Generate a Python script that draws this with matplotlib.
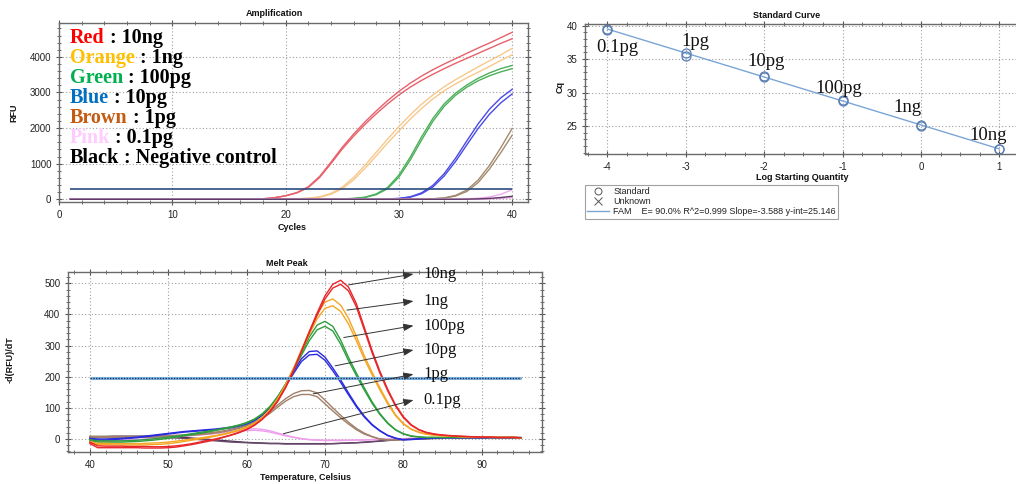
import matplotlib
matplotlib.use("Agg")
import matplotlib.pyplot as plt
from matplotlib.ticker import MultipleLocator
from matplotlib.lines import Line2D

plt.rcParams['font.family'] = ['Liberation Sans', 'DejaVu Sans']
plt.rcParams['axes.unicode_minus'] = False

# ---------------- data ----------------
cycles = list(range(1, 41))

amp_red_1 = [0, 0, 0, 0, 0, 0, 0, 0, 0, 0, 0, 0, 0, 0, 1, 2, 5, 15, 45, 100,
             190, 350, 640, 1040, 1460, 1830, 2170, 2480, 2770, 3030,
             3260, 3460, 3640, 3800, 3950, 4100, 4250, 4390, 4540, 4690]
amp_red_2 = [0, 0, 0, 0, 0, 0, 0, 0, 0, 0, 0, 0, 0, 0, 1, 2, 5, 14, 42, 95,
             180, 330, 610, 1000, 1410, 1770, 2100, 2400, 2680, 2930,
             3150, 3340, 3510, 3670, 3820, 3960, 4100, 4240, 4380, 4510]
amp_orange_1 = [0, 0, 0, 0, 0, 0, 0, 0, 0, 0, 0, 0, 0, 0, 0, 0, 0, 1, 3, 6,
                14, 30, 70, 165, 340, 610, 950, 1320, 1690, 2040,
                2370, 2670, 2930, 3160, 3360, 3540, 3720, 3890, 4060, 4240]
amp_orange_2 = [0, 0, 0, 0, 0, 0, 0, 0, 0, 0, 0, 0, 0, 0, 0, 0, 0, 1, 2, 5,
                11, 25, 58, 140, 295, 545, 865, 1220, 1580, 1920,
                2250, 2550, 2820, 3050, 3240, 3410, 3570, 3730, 3900, 4060]
amp_green_1 = [0, 0, 0, 0, 0, 0, 0, 0, 0, 0, 0, 0, 0, 0, 0, 0, 0, 0, 0, 0,
               0, 1, 3, 6, 12, 25, 60, 150, 330, 680,
               1180, 1750, 2270, 2680, 2980, 3210, 3400, 3550, 3670, 3760]
amp_green_2 = [0, 0, 0, 0, 0, 0, 0, 0, 0, 0, 0, 0, 0, 0, 0, 0, 0, 0, 0, 0,
               0, 1, 2, 5, 10, 20, 50, 130, 295, 620,
               1100, 1660, 2190, 2610, 2920, 3150, 3330, 3470, 3580, 3670]
amp_blue_1 = [0, 0, 0, 0, 0, 0, 0, 0, 0, 0, 0, 0, 0, 0, 0, 0, 0, 0, 0, 0,
              0, 0, 0, 0, 1, 2, 4, 7, 10, 25,
              70, 180, 390, 720, 1150, 1640, 2120, 2530, 2850, 3090]
amp_blue_2 = [0, 0, 0, 0, 0, 0, 0, 0, 0, 0, 0, 0, 0, 0, 0, 0, 0, 0, 0, 0,
              0, 0, 0, 0, 1, 2, 3, 5, 8, 20,
              58, 155, 345, 655, 1060, 1530, 1990, 2390, 2710, 2960]
amp_brown_1 = [0, 0, 0, 0, 0, 0, 0, 0, 0, 0, 0, 0, 0, 0, 0, 0, 0, 0, 0, 0,
               0, 0, 0, 0, 0, 0, 0, 0, 1, 2,
               3, 5, 15, 40, 110, 260, 540, 950, 1450, 1990]
amp_brown_2 = [0, 0, 0, 0, 0, 0, 0, 0, 0, 0, 0, 0, 0, 0, 0, 0, 0, 0, 0, 0,
               0, 0, 0, 0, 0, 0, 0, 0, 1, 1,
               2, 4, 12, 32, 90, 220, 470, 850, 1310, 1800]
amp_pink_1 = [0, 0, 0, 0, 0, 0, 0, 0, 0, 0, 0, 0, 0, 0, 0, 0, 0, 0, 0, 0,
              0, 0, 0, 0, 0, 0, 0, 0, 0, 0,
              0, 1, 1, 2, 5, 12, 30, 65, 140, 270]
amp_pink_2 = [0, 0, 0, 0, 0, 0, 0, 0, 0, 0, 0, 0, 0, 0, 0, 0, 0, 0, 0, 0,
              0, 0, 0, 0, 0, 0, 0, 0, 0, 0,
              0, 0, 0, 0, 1, 2, 6, 12, 25, 50]
amp_negative = [0, 0, 0, 0, 0, 0, 0, 0, 0, 0, 0, 0, 0, 0, 0, 0, 0, 0, 0, 0,
                0, 0, 0, 0, 0, 0, 0, 0, 0, 0,
                0, 0, 0, 0, 1, 4, 11, 25, 50, 85]
amp_threshold = 281

log_quantity = [-4, -4, -3, -3, -2, -2, -1, -1, 0, 0, 1, 1]
cq_values = [39.5, 39.4, 35.9, 35.5, 32.4, 32.3, 28.9, 28.7, 25.1, 25.0, 21.6, 21.5]
fit_slope = -3.588
fit_intercept = 25.146
fit_range = [-4, 1]
std_labels = ['0.1pg', '1pg', '10pg', '100pg', '1ng', '10ng']

melt_temps = list(range(40, 96))
melt_red_1 = [-15, -28, -28, -28, -28, -28, -28, -29, -29, -29,
              -28, -26, -22, -18, -13, -8, -2, 5, 12, 20,
              30, 44, 63, 88, 122, 166, 220, 282, 345, 405,
              460, 497, 510, 488, 435, 360, 285, 218, 160, 110,
              72, 46, 30, 21, 16, 13, 11, 9, 8, 7,
              6, 6, 5, 5, 5, 4]
melt_red_2 = [-10, -22, -23, -23, -23, -24, -24, -24, -25, -25,
              -24, -22, -19, -15, -10, -5, 0, 6, 13, 21,
              31, 45, 64, 90, 124, 168, 222, 282, 342, 398,
              450, 485, 497, 476, 425, 352, 278, 212, 155, 106,
              69, 44, 29, 20, 15, 12, 10, 9, 8, 7,
              6, 6, 5, 5, 5, 4]
melt_orange_1 = [-12, -18, -18, -19, -19, -19, -19, -19, -18, -17,
                 -15, -12, -8, -4, 0, 4, 9, 14, 20, 27,
                 36, 49, 68, 94, 130, 175, 228, 287, 345, 400,
                 440, 450, 430, 388, 330, 268, 215, 165, 118, 78,
                 50, 32, 22, 16, 13, 11, 9, 8, 7, 6,
                 6, 5, 5, 5, 5, 4]
melt_orange_2 = [-8, -14, -14, -15, -15, -15, -15, -14, -13, -12,
                 -10, -7, -4, 0, 3, 7, 11, 16, 22, 29,
                 38, 51, 70, 96, 131, 175, 226, 282, 336, 386,
                 420, 428, 410, 370, 316, 258, 207, 158, 113, 75,
                 48, 31, 21, 15, 12, 10, 9, 8, 7, 6,
                 6, 5, 5, 5, 5, 4]
melt_green_1 = [-5, -10, -10, -10, -10, -9, -8, -6, -4, -1,
                2, 6, 10, 14, 18, 22, 27, 32, 37, 43,
                51, 63, 80, 104, 137, 178, 225, 276, 328, 366,
                378, 362, 318, 262, 212, 165, 120, 82, 52, 30,
                17, 10, 7, 5, 5, 5, 5, 5, 5, 5,
                5, 5, 5, 5, 5, 4]
melt_green_2 = [-2, -6, -6, -6, -6, -5, -4, -2, 0, 3,
                6, 9, 13, 17, 21, 25, 29, 34, 39, 45,
                53, 64, 81, 105, 137, 177, 222, 269, 316, 351,
                362, 347, 305, 252, 204, 158, 115, 79, 50, 29,
                16, 9, 6, 5, 5, 5, 5, 5, 5, 5,
                5, 5, 5, 5, 5, 4]
melt_blue_1 = [2, 0, 0, 1, 2, 4, 6, 9, 12, 15,
               18, 21, 24, 26, 28, 30, 32, 35, 38, 43,
               50, 61, 78, 102, 135, 175, 218, 258, 281, 283,
               263, 228, 190, 148, 108, 74, 47, 27, 12, 3,
               -2, -1, 1, 2, 3, 4, 4, 4, 4, 4,
               4, 4, 4, 4, 4, 4]
melt_blue_2 = [0, -3, -3, -2, 0, 2, 4, 7, 10, 13,
               16, 19, 22, 24, 26, 28, 30, 33, 36, 41,
               48, 59, 76, 100, 132, 170, 211, 249, 270, 272,
               253, 219, 182, 142, 104, 71, 45, 26, 11, 2,
               -3, -2, 0, 2, 3, 4, 4, 4, 4, 4,
               4, 4, 4, 4, 4, 4]
melt_brown_1 = [8, 8, 8, 8, 8, 8, 8, 9, 9, 10,
                11, 12, 13, 15, 17, 19, 22, 26, 31, 37,
                45, 55, 70, 88, 110, 130, 146, 155, 156, 148,
                125, 100, 76, 54, 34, 19, 8, 0, -3, -3,
                -2, 0, 1, 2, 3, 3, 4, 4, 4, 4,
                4, 4, 4, 4, 4, 4]
melt_brown_2 = [5, 5, 5, 5, 5, 5, 5, 6, 6, 7,
                8, 9, 10, 12, 14, 16, 19, 23, 28, 34,
                42, 52, 66, 83, 103, 122, 136, 143, 143, 136,
                113, 90, 68, 48, 30, 16, 7, 0, -3, -3,
                -2, 0, 1, 2, 3, 3, 4, 4, 4, 4,
                4, 4, 4, 4, 4, 4]
melt_pink_1 = [-5, -8, -8, -7, -6, -5, -3, -1, 1, 3,
               5, 7, 9, 11, 13, 15, 18, 21, 24, 28,
               31, 33, 31, 26, 19, 12, 6, 1, -2, -4,
               -5, -5, -5, -4, -4, -3, -2, -1, 0, 0,
               1, 2, 2, 3, 3, 3, 4, 4, 4, 4,
               4, 4, 4, 4, 4, 4]
melt_pink_2 = [-3, -5, -5, -5, -4, -3, -2, 0, 2, 4,
               6, 8, 10, 12, 14, 16, 18, 20, 22, 25,
               27, 28, 26, 22, 16, 10, 5, 1, -2, -3,
               -4, -4, -4, -4, -3, -3, -2, -1, 0, 0,
               1, 2, 2, 3, 3, 3, 4, 4, 4, 4,
               4, 4, 4, 4, 4, 4]
melt_negative_1 = [8, 8, 8, 9, 9, 9, 9, 9, 9, 8,
                   7, 6, 5, 3, 1, -1, -3, -5, -7, -9,
                   -11, -12, -13, -14, -14, -15, -15, -15, -15, -15,
                   -15, -15, -14, -13, -12, -11, -9, -7, -5, -3,
                   -1, 0, 1, 1, 2, 2, 3, 3, 3, 4,
                   4, 4, 4, 4, 5, 5]
melt_negative_2 = [5, 5, 6, 6, 6, 6, 6, 6, 6, 5,
                   4, 3, 2, 0, -2, -4, -6, -8, -10, -11,
                   -12, -13, -14, -15, -15, -16, -16, -16, -16, -16,
                   -16, -15, -14, -13, -12, -10, -8, -6, -4, -2,
                   -1, 0, 1, 1, 2, 2, 3, 3, 3, 4,
                   4, 4, 4, 4, 4, 4]
melt_threshold = 197
melt_labels = ['10ng', '1ng', '100pg', '10pg', '1pg', '0.1pg']

legend_words = ['Red', 'Orange', 'Green', 'Blue', 'Brown', 'Pink', 'Black']
legend_rest = [' : 10ng', ' : 1ng', ' : 100pg', ' : 10pg', ' : 1pg', ' : 0.1pg',
               ' : Negative control']

# ---------------- styling ----------------
W, H = 1016, 484
fig = plt.figure(figsize=(W / 100, H / 100), dpi=100)


def box(l, t, r, b):
    return [l / W, 1 - b / H, (r - l) / W, (b - t) / H]


def style(ax):
    for s in ax.spines.values():
        s.set_color('#6a6a6a')
        s.set_linewidth(1.0)
    ax.tick_params(which='both', direction='inout', colors='#555555',
                   labelsize=7, labelcolor='#222222', top=True, right=True,
                   labeltop=False, labelright=False, pad=3)
    ax.tick_params(which='major', length=5, width=0.8)
    ax.tick_params(which='minor', length=3, width=0.6)
    ax.grid(True, which='major', linestyle=(0, (1, 2)), color='#a0a0a0', linewidth=0.8)
    ax.set_axisbelow(True)


def ftext(x, y, s, **kw):
    return fig.text(x / W, 1 - y / H, s, **kw)


title_kw = dict(fontsize=6.5, fontweight='bold', color='#111111', ha='center', va='center')

# ---------------- amplification ----------------
ax1 = fig.add_axes(box(59, 23, 528, 202))
style(ax1)
amp_series = [
    (amp_red_1, '#e8606a'), (amp_red_2, '#e8606a'),
    (amp_orange_1, '#f7c88c'), (amp_orange_2, '#f7c88c'),
    (amp_green_1, '#4caf5a'), (amp_green_2, '#4caf5a'),
    (amp_blue_1, '#4a4ae6'), (amp_blue_2, '#4a4ae6'),
    (amp_brown_1, '#a38b6e'), (amp_brown_2, '#a38b6e'),
    (amp_pink_1, '#f0a8f0'), (amp_pink_2, '#e8a0e0'),
    (amp_negative, '#5c3c64'),
]
for vals, col in amp_series:
    ax1.plot(cycles, vals, color=col, lw=1.0)
ax1.hlines(amp_threshold, cycles[0], cycles[-1], color='#2b4c7e', lw=1.2, zorder=5)
ax1.set_xlim(0, 41.4)
ax1.set_ylim(-76, 4952)
ax1.xaxis.set_major_locator(MultipleLocator(10))
ax1.xaxis.set_minor_locator(MultipleLocator(2))
ax1.yaxis.set_major_locator(MultipleLocator(1000))
ax1.yaxis.set_minor_locator(MultipleLocator(200))
ftext(274, 14, 'Amplification', **title_kw)
ftext(292, 228, 'Cycles', **title_kw)
ftext(14, 113, 'RFU', rotation=90, **title_kw)

# ---------------- standard curve ----------------
ax2 = fig.add_axes(box(585, 24, 1019, 154))
style(ax2)
ax2.plot(fit_range, [fit_slope * x + fit_intercept for x in fit_range],
         color='#7aa6d6', lw=1.0)
ax2.plot(log_quantity, cq_values, linestyle='none', marker='o', markersize=6.5,
         markerfacecolor='none', markeredgecolor='#5b7fb5', markeredgewidth=0.9)
ax2.set_xlim(-4.285, 1.25)
ax2.set_ylim(20.8, 40.25)
ax2.xaxis.set_major_locator(MultipleLocator(1))
ax2.xaxis.set_minor_locator(MultipleLocator(0.25))
ax2.yaxis.set_major_locator(MultipleLocator(5))
ax2.yaxis.set_minor_locator(MultipleLocator(1))
std_label_pos = [(-4.145, 36.66), (-3.05, 37.56), (-2.22, 34.61),
                 (-1.35, 30.67), (-0.356, 27.75), (0.614, 23.64)]
for lab, (lx, ly) in zip(std_labels, std_label_pos):
    ax2.text(lx, ly, lab, family='Liberation Serif', fontsize=13.5,
             ha='left', va='center', color='#111111')
ftext(787, 15, 'Standard Curve', **title_kw)
ftext(802, 178, 'Log Starting Quantity', **title_kw)
ftext(560, 87, 'Cq', rotation=90, **title_kw)

handles = [
    Line2D([], [], linestyle='none', marker='o', markerfacecolor='none',
           markeredgecolor='#555555', markersize=5, markeredgewidth=0.7),
    Line2D([], [], linestyle='none', marker='x', color='#555555',
           markersize=6, markeredgewidth=0.7),
    Line2D([], [], color='#7aa6d6', lw=1.0),
]
leg = ax2.legend(handles, ['Standard', 'Unknown',
                           'FAM    E= 90.0% R^2=0.999 Slope=-3.588 y-int=25.146'],
                 loc='upper left', bbox_to_anchor=(585 / W, 1 - 185 / H),
                 bbox_transform=fig.transFigure, fontsize=6.5, frameon=True,
                 fancybox=False, edgecolor='#8a8a8a', borderpad=0.25,
                 labelspacing=0.12, handlelength=2.4, handletextpad=0.5,
                 borderaxespad=0)
leg.get_frame().set_linewidth(0.8)
for t in leg.get_texts():
    t.set_color('#222222')

# ---------------- melt peak ----------------
ax3 = fig.add_axes(box(68, 272, 542, 452))
style(ax3)
melt_series = [
    (melt_negative_1, '#4a3050'), (melt_negative_2, '#6b4a6e'),
    (melt_pink_1, '#eea0ee'), (melt_pink_2, '#eea0ee'),
    (melt_brown_1, '#a0806a'), (melt_brown_2, '#a0806a'),
    (melt_blue_1, '#2a2ae0'), (melt_blue_2, '#2a2ae0'),
    (melt_green_1, '#2e9e3e'), (melt_green_2, '#2e9e3e'),
    (melt_orange_1, '#f5a623'), (melt_orange_2, '#f5a623'),
    (melt_red_1, '#e8262a'), (melt_red_2, '#e8262a'),
]
for vals, col in melt_series:
    ax3.plot(melt_temps, vals, color=col, lw=1.0)
ax3.hlines(melt_threshold, melt_temps[0], melt_temps[-1], color='#7fb3e0', lw=2.2, zorder=5)
ax3.hlines(melt_threshold, melt_temps[0], melt_temps[-1], color='#1d3560', lw=1.0,
           linestyles=(0, (1, 1)), zorder=6)
ax3.set_xlim(37.2, 97.7)
ax3.set_ylim(-41.8, 536.5)
ax3.xaxis.set_major_locator(MultipleLocator(10))
ax3.xaxis.set_minor_locator(MultipleLocator(2))
ax3.yaxis.set_major_locator(MultipleLocator(100))
ax3.yaxis.set_minor_locator(MultipleLocator(20))

melt_label_pos = [(82.6, 530), (82.6, 443), (82.6, 364), (82.6, 286), (82.6, 208), (82.6, 125)]
melt_arrow_tail = [(73.0, 495), (72.8, 414), (72.4, 326), (71.3, 235), (68.5, 145), (64.7, 17)]
for lab, (lx, ly), tail in zip(melt_labels, melt_label_pos, melt_arrow_tail):
    ax3.annotate('', xy=(lx - 1.3, ly), xytext=tail,
                 arrowprops=dict(arrowstyle='-|>,head_length=0.6,head_width=0.22',
                                 color='#333333', lw=0.7, shrinkA=0, shrinkB=0),
                 annotation_clip=False, zorder=7)
    ax3.text(lx, ly, lab, family='Liberation Serif', fontsize=12, ha='left',
             va='center', color='#111111', zorder=8, clip_on=False)
ftext(287, 263, 'Melt Peak', **title_kw)
ftext(306, 477, 'Temperature, Celsius', **title_kw)
ftext(10, 360, '-d(RFU)/dT', rotation=90, **title_kw)

# ---------------- colour key on amplification panel ----------------
fig.canvas.draw()
renderer = fig.canvas.get_renderer()
key_colors = ['#ff0000', '#ffc000', '#00b050', '#0070c0', '#c55a11', '#ffccff', '#000000']
key_baselines = [43.3, 63.3, 83.3, 103.3, 123.3, 143.3, 163.3]
key_kw = dict(family='Liberation Serif', fontweight='bold', fontsize=14.5, va='baseline')
for word, rest, col, yb in zip(legend_words, legend_rest, key_colors, key_baselines):
    t = ftext(70, yb, word, color=col, **key_kw)
    bb = t.get_window_extent(renderer)
    fig.text(bb.x1 / W, 1 - yb / H, rest, color='#000000', **key_kw)

fig.savefig('out.png', dpi=100)
